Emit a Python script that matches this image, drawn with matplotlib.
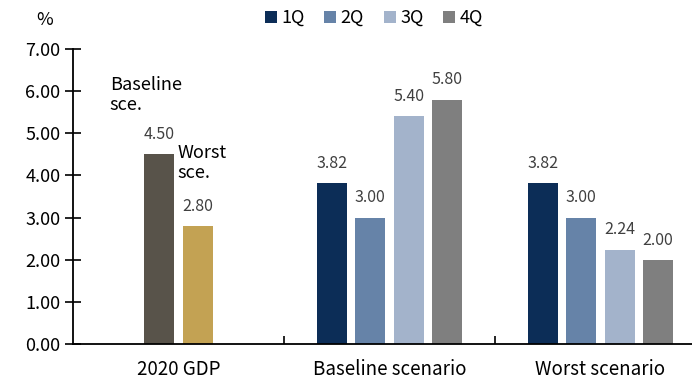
import numpy as np
import matplotlib.pyplot as plt

plt.rcParams['font.family'] = ['Noto Sans CJK KR', 'DejaVu Sans']

groups = ["2020 GDP", "Baseline scenario", "Worst scenario"]
quarters = ["1Q", "2Q", "3Q", "4Q"]
gdp_labels = ["Baseline\nsce.", "Worst\nsce."]
gdp_values = [4.50, 2.80]
baseline_values = [3.82, 3.00, 5.40, 5.80]
worst_values = [3.82, 3.00, 2.24, 2.00]
yticks = [0, 1, 2, 3, 4, 5, 6, 7]

q_colors = ["#0c2d57", "#6683a8", "#a3b3cb", "#7f7f7f"]
gdp_colors = ["#58534a", "#c3a253"]
val_color = "#404040"

fig = plt.figure(figsize=(6.92, 3.81), dpi=100)
ax = fig.add_axes([73 / 692, 37 / 381, (692 - 73) / 692, 295 / 381])

width = 0.142
step = 0.182

# 2020 GDP pair
gdp_x = 0 + (np.arange(2) - 0.5) * step
ax.bar(gdp_x, gdp_values, width=width, color=gdp_colors)
for x, v in zip(gdp_x, gdp_values):
    ax.annotate(f"{v:.2f}", (x, v), xytext=(0, 8), textcoords="offset points",
                ha="center", va="bottom", fontsize=11.5, color=val_color)

# quarterly scenarios
for i, q in enumerate(quarters):
    xs = np.array([1, 2]) + (i - 1.5) * step
    vals = [baseline_values[i], worst_values[i]]
    ax.bar(xs, vals, width=width, color=q_colors[i], label=q)
    for x, v in zip(xs, vals):
        ax.annotate(f"{v:.2f}", (x, v), xytext=(0, 8), textcoords="offset points",
                    ha="center", va="bottom", fontsize=11.5, color=val_color)

# side labels for the GDP bars
ax.text(gdp_x[0] - 0.235, 5.9, gdp_labels[0], ha="left", va="center",
        fontsize=13, color="black", linespacing=1.15)
ax.text(gdp_x[1] - 0.095, 4.3, gdp_labels[1], ha="left", va="center",
        fontsize=13, color="black", linespacing=1.15)

ax.set_ylim(0, 7)
ax.set_xlim(-0.5, -0.5 + (692 - 73) / 211)
ax.set_yticks(yticks)
ax.set_yticklabels([f"{t:.2f}" for t in yticks], fontsize=13)
ax.tick_params(axis="y", direction="inout", length=12, width=1.2, pad=3)

ax.set_xticks([0, 1, 2])
ax.set_xticklabels(groups, fontsize=13.5)
ax.tick_params(axis="x", length=0, pad=11)
ax.set_xticks([0.5, 1.5], minor=True)
ax.tick_params(axis="x", which="minor", direction="in", length=6, width=1.2)

for s in ["top", "right"]:
    ax.spines[s].set_visible(False)
ax.spines["left"].set_linewidth(1.3)
ax.spines["bottom"].set_linewidth(1.3)

fig.text(45 / 692, 1 - 20 / 381, "%", ha="center", va="center", fontsize=13)

ax.legend(loc="center", bbox_to_anchor=(374 / 692, 1 - 18 / 381),
          bbox_transform=fig.transFigure, ncol=4, frameon=False, fontsize=13,
          handlelength=0.65, handleheight=0.65, handletextpad=0.25, columnspacing=1.1)

fig.savefig("out.png", dpi=100)
